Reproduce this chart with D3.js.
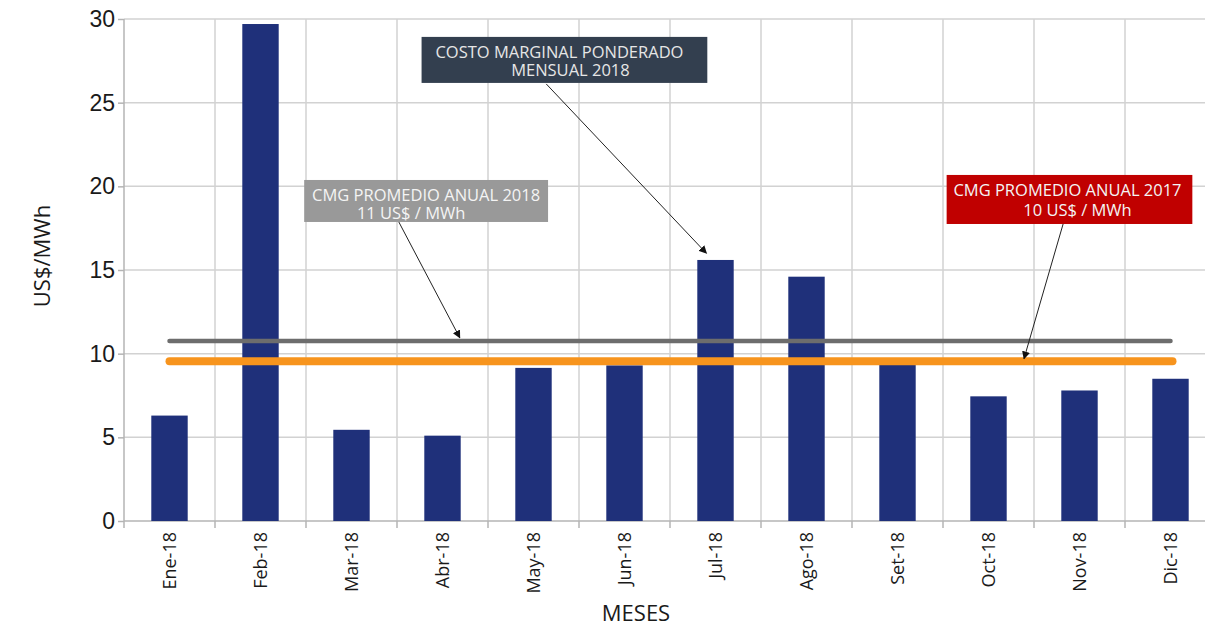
<!DOCTYPE html>
<html>
<head>
<meta charset="utf-8">
<style>
  body { margin: 0; background: #fff; }
  svg { display: block; font-family: "Open Sans", "Noto Sans", sans-serif; }
  .grid line { stroke: #d2d2d2; stroke-width: 1.5; }
  .axis path, .axis line { stroke: #b4b4b4; stroke-width: 1.5; }
  .axis text { fill: #1a1a1a; }
</style>
</head>
<body>
<script src="https://cdn.jsdelivr.net/npm/d3@7"></script>
<script>
// monthly weighted marginal cost, US$/MWh
var months = ["Ene-18", "Feb-18", "Mar-18", "Abr-18", "May-18", "Jun-18",
              "Jul-18", "Ago-18", "Set-18", "Oct-18", "Nov-18", "Dic-18"];
var cmg2018 = [6.3, 29.7, 5.45, 5.1, 9.15, 9.3, 15.6, 14.6, 9.4, 7.45, 7.8, 8.5];
var avg2018 = 10.75;
var avg2017 = 9.55;
var yTicks = [0, 5, 10, 15, 20, 25, 30];

// callouts: box corners and arrow ends given in (band index, value) units
var notes = [
  { lines: ["COSTO MARGINAL PONDERADO", "MENSUAL 2018"], fill: "#333f4f", color: "#e6e6e6",
    box: [3.27, 28.93, 6.41, 26.18], from: [4.64, 26.12], to: [6.40, 16.0], dx: [-5, 6], gap: 18 },
  { lines: ["CMG PROMEDIO ANUAL 2018", "11 US$ / MWh"], fill: "#999999", color: "#f4f4f4",
    box: [1.98, 20.38, 4.66, 17.87], from: [3.02, 17.87], to: [3.69, 10.95], dx: [0, -15], gap: 18 },
  { lines: ["CMG PROMEDIO ANUAL 2017", "10 US$ / MWh"], fill: "#c00000", color: "#f4f4f4",
    box: [9.04, 20.68, 11.74, 17.75], from: [10.32, 17.75], to: [9.89, 9.7], dx: [-2, 8], gap: 20 }
];

var width = 1205, height = 629;
var margin = { left: 124, top: 19 };
var plotW = 1092, plotH = 502;

var svg = d3.select("body").append("svg")
    .attr("width", width)
    .attr("height", height);

var defs = svg.append("defs");
defs.append("marker")
    .attr("id", "arrow")
    .attr("viewBox", "0 0 10 10")
    .attr("refX", 9).attr("refY", 5)
    .attr("markerWidth", 8).attr("markerHeight", 8)
    .attr("markerUnits", "userSpaceOnUse")
    .attr("orient", "auto")
    .append("path")
    .attr("d", "M0,0L10,5L0,10z")
    .attr("fill", "#111");

var g = svg.append("g")
    .attr("transform", "translate(" + margin.left + "," + margin.top + ")");

var x = d3.scaleBand()
    .domain(months)
    .range([0, plotW])
    .paddingInner(0.6)
    .paddingOuter(0.3);

var y = d3.scaleLinear()
    .domain([0, 30])
    .range([plotH, 0]);

var step = x.step();
function xi(i) { return i * step; }

// grid
var grid = g.append("g").attr("class", "grid");
grid.selectAll(".h").data(yTicks.slice(1))
  .enter().append("line")
    .attr("x1", 0).attr("x2", plotW)
    .attr("y1", function(d) { return y(d); })
    .attr("y2", function(d) { return y(d); });
grid.selectAll(".v").data(d3.range(1, months.length + 1))
  .enter().append("line")
    .attr("x1", xi).attr("x2", xi)
    .attr("y1", 0).attr("y2", plotH);

// axes
var yAxis = g.append("g").attr("class", "axis")
    .call(d3.axisLeft(y).tickValues(yTicks).tickSize(6).tickPadding(3));
yAxis.select(".domain").attr("d", "M0,0V" + plotH);
yAxis.selectAll("text").style("font-size", "23px");

var xAxis = g.append("g").attr("class", "axis")
    .attr("transform", "translate(0," + plotH + ")");
xAxis.append("line")
    .attr("x1", 0).attr("x2", plotW);
xAxis.selectAll(".tk").data(d3.range(0, months.length + 1))
  .enter().append("line")
    .attr("x1", xi).attr("x2", xi)
    .attr("y1", 0).attr("y2", 7);
xAxis.selectAll(".lbl").data(months)
  .enter().append("text")
    .attr("transform", function(d) {
      return "translate(" + (x(d) + x.bandwidth() / 2 + 6) + ",11) rotate(-90)";
    })
    .attr("text-anchor", "end")
    .style("font-size", "18px")
    .text(function(d) { return d; });

// bars
g.selectAll(".bar").data(cmg2018)
  .enter().append("rect")
    .attr("class", "bar")
    .attr("x", function(d, i) { return x(months[i]); })
    .attr("width", x.bandwidth())
    .attr("y", function(d) { return y(d); })
    .attr("height", function(d) { return plotH - y(d); })
    .attr("fill", "#1f307a");

// average lines
var x0 = x(months[0]) + x.bandwidth() / 2;
var x1 = x(months[months.length - 1]) + x.bandwidth() / 2;
g.append("line")
    .attr("x1", x0).attr("x2", x1)
    .attr("y1", y(avg2018)).attr("y2", y(avg2018))
    .attr("stroke", "#6d6d6d").attr("stroke-width", 4.5)
    .attr("stroke-linecap", "round");
g.append("line")
    .attr("x1", x0).attr("x2", x1 + 2)
    .attr("y1", y(avg2017)).attr("y2", y(avg2017))
    .attr("stroke", "#f7941d").attr("stroke-width", 8)
    .attr("stroke-linecap", "round");

// callouts
notes.forEach(function(n) {
  var bx = xi(n.box[0]), by = y(n.box[1]);
  var bw = xi(n.box[2]) - bx, bh = y(n.box[3]) - by;
  g.append("rect")
      .attr("x", bx).attr("y", by)
      .attr("width", bw).attr("height", bh)
      .attr("fill", n.fill);
  var txt = g.append("text")
      .attr("y", by + 21)
      .attr("text-anchor", "middle")
      .attr("fill", n.color)
      .style("font-size", "16.5px");
  n.lines.forEach(function(t, k) {
    txt.append("tspan")
        .attr("x", bx + bw / 2 + n.dx[k])
        .attr("dy", k ? n.gap : 0)
        .text(t);
  });
  g.append("line")
      .attr("x1", xi(n.from[0])).attr("y1", y(n.from[1]))
      .attr("x2", xi(n.to[0])).attr("y2", y(n.to[1]))
      .attr("stroke", "#222").attr("stroke-width", 1)
      .attr("marker-end", "url(#arrow)");
});

// axis titles
svg.append("text")
    .attr("transform", "translate(50," + (margin.top + plotH / 2 - 14) + ") rotate(-90)")
    .attr("text-anchor", "middle")
    .style("font-size", "22px")
    .attr("fill", "#1a1a1a")
    .text("US$/MWh");
svg.append("text")
    .attr("x", 636).attr("y", 621)
    .attr("text-anchor", "middle")
    .style("font-size", "22px")
    .attr("fill", "#1a1a1a")
    .text("MESES");
</script>
</body>
</html>
